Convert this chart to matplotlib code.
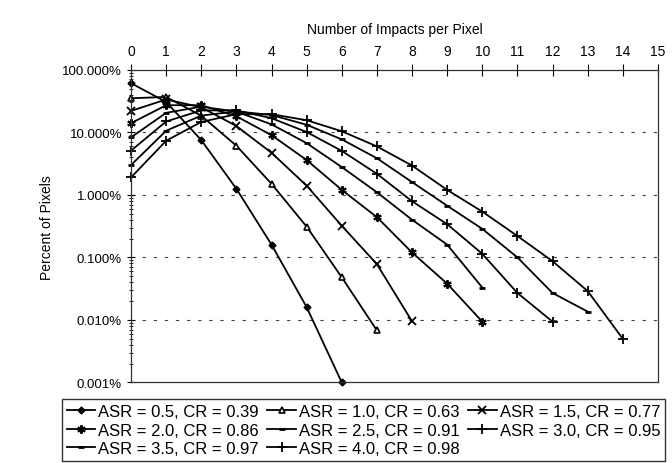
import numpy as np
import matplotlib
matplotlib.use("Agg")
import matplotlib.pyplot as plt
from matplotlib.ticker import FixedLocator, LogLocator, NullFormatter

plt.rcParams['font.family'] = ['Liberation Sans', 'DejaVu Sans']

# percent of pixels vs number of impacts
asr05 = [61, 30.5, 7.5, 1.25, 0.16, 0.016, 0.001]
asr10 = [35, 36.8, 18.4, 6.1, 1.5, 0.31, 0.048, 0.0068]
asr15 = [22, 33.5, 25.1, 12.6, 4.7, 1.4, 0.32, 0.078, 0.0095]
asr20 = [14, 27.1, 27.1, 18, 9.0, 3.6, 1.2, 0.44, 0.12, 0.038, 0.0094]
asr25 = [8.3, 20.5, 25.7, 21.4, 13.4, 6.7, 2.78, 1.1, 0.4, 0.16, 0.033]
asr30 = [5.1, 14.9, 22.4, 22.4, 16.8, 10.1, 5.04, 2.17, 0.79, 0.34, 0.114, 0.027, 0.0094]
asr35 = [3.0, 10.6, 18.5, 21.6, 18.9, 13.2, 7.7, 3.85, 1.6, 0.67, 0.286, 0.1, 0.027, 0.0136]
asr40 = [1.9, 7.33, 14.65, 19.5, 19.5, 15.6, 10.4, 5.95, 2.94, 1.2, 0.54, 0.22, 0.087, 0.029, 0.005]

labels = ["ASR = 0.5, CR = 0.39", "ASR = 1.0, CR = 0.63", "ASR = 1.5, CR = 0.77",
          "ASR = 2.0, CR = 0.86", "ASR = 2.5, CR = 0.91", "ASR = 3.0, CR = 0.95",
          "ASR = 3.5, CR = 0.97", "ASR = 4.0, CR = 0.98"]
ytick_vals = [100, 10, 1, 0.1, 0.01, 0.001]
ytick_labels = ["100.000%", "10.000%", "1.000%", "0.100%", "0.010%", "0.001%"]

series = [asr05, asr10, asr15, asr20, asr25, asr30, asr35, asr40]
styles = [
    dict(marker='D', ms=3.5, mfc='black'),
    dict(marker='^', ms=5, mfc='white', mew=1.2),
    dict(marker='x', ms=5.5, mew=1.3),
    dict(marker=(6, 2, 0), ms=6, mew=1.5),
    dict(marker='_', ms=5, mew=2),
    dict(marker='+', ms=6.5, mew=1.3),
    dict(marker='_', ms=5, mew=2),
    dict(marker='+', ms=6.5, mew=1.3),
]

fig = plt.figure(figsize=(6.72, 4.64), dpi=100)
ax = fig.add_axes([0.195, 0.1735, 0.784, 0.674])

handles = []
for vals, lab, st in zip(series, labels, styles):
    x = np.arange(len(vals))
    h, = ax.plot(x, vals, color='black', lw=1.3, mec='black', label=lab,
                 clip_on=False, **st)
    handles.append(h)

ax.set_yscale('log')
ax.set_ylim(0.001, 100)
ax.set_xlim(0, 15)
ax.yaxis.set_major_locator(FixedLocator(ytick_vals))
ax.set_yticklabels(ytick_labels, fontsize=9.5)
ax.yaxis.set_minor_locator(LogLocator(base=10, subs=np.arange(2, 10)))
ax.yaxis.set_minor_formatter(NullFormatter())
ax.tick_params(axis='y', which='major', direction='inout', length=6, width=0.8)
ax.tick_params(axis='y', which='minor', direction='inout', length=3, width=0.6)

ax.xaxis.tick_top()
ax.xaxis.set_label_position('top')
ax.set_xticks(range(16))
ax.tick_params(axis='x', direction='inout', length=9, width=0.8, labelsize=10, pad=4)
ax.set_xlabel("Number of Impacts per Pixel", fontsize=10, labelpad=8)
ax.set_ylabel("Percent of Pixels", fontsize=10, labelpad=6)

for v in ytick_vals[1:-1]:
    ax.axhline(v, color='#444444', lw=0.8, ls=(0, (3, 7)), zorder=0)

for s in ax.spines.values():
    s.set_linewidth(0.9)
    s.set_color('#333333')

order = [0, 3, 6, 1, 4, 7, 2, 5]
leg = fig.legend([handles[i] for i in order], [labels[i] for i in order],
                 loc='upper left', bbox_to_anchor=(0.092, 0.138), ncol=3,
                 fontsize=12, frameon=True, fancybox=False, edgecolor='black',
                 handlelength=1.7, handletextpad=0.2, columnspacing=0.5,
                 labelspacing=0.22, borderpad=0.3, borderaxespad=0)
leg.get_frame().set_linewidth(1.0)

fig.savefig("out.png", dpi=100)
